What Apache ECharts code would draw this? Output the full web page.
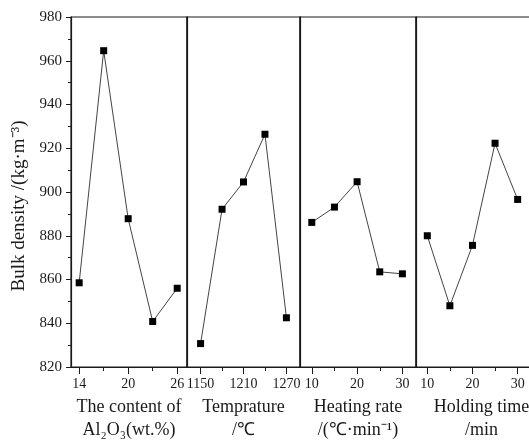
<!DOCTYPE html>
<html>
<head>
<meta charset="utf-8">
<script src="https://cdn.jsdelivr.net/npm/echarts@6/dist/echarts.min.js"></script>
<style>
  html, body { margin: 0; padding: 0; background: #fff; }
  #chart { width: 529px; height: 440px; }
</style>
</head>
<body>
<div id="chart"></div>
<script>
// values
const alX = [14, 17, 20, 23, 26];
const alY = [858.5, 964.6, 887.8, 840.8, 856.0];
const tempX = [1150, 1180, 1210, 1240, 1270];
const tempY = [830.7, 892.1, 904.6, 926.4, 842.5];
const rateX = [10, 15, 20, 25, 30];
const rateY = [886.1, 893.1, 904.7, 863.5, 862.6];
const holdX = [10, 15, 20, 25, 30];
const holdY = [880.0, 848.0, 875.6, 922.3, 896.6];

const yTicks = { min: 820, max: 980, interval: 20 };

const panels = [
  { x: alX, y: alY, min: 13.0, max: 27.2, labels: [14, 20, 26], minor: [17, 23],
    name: 'The content of\nAl₂O₃(wt.%)', left: 71, width: 116, pad: 0 },
  { x: tempX, y: tempY, min: 1131, max: 1289, labels: [1150, 1210, 1270], minor: [1180, 1240],
    name: 'Temprature\n/℃', left: 187, width: 113, pad: 0 },
  { x: rateX, y: rateY, min: 7.4, max: 33.0, labels: [10, 20, 30], minor: [15, 25],
    name: 'Heating rate\n/(℃·min⁻¹)', left: 300, width: 116, pad: 0 },
  { x: holdX, y: holdY, min: 7.5, max: 33.4, labels: [10, 20, 30], minor: [15, 25],
    name: 'Holding time\n/min', left: 416, width: 117, pad: 14 }
];

const font = 'Liberation Serif';
const ink = '#1a1a1a';

let myChart = echarts.init(document.getElementById('chart'));

let grid = [], xAxis = [], yAxis = [], series = [];
panels.forEach((p, i) => {
  grid.push({
    left: p.left, top: 17, width: p.width, height: 350,
    outerBoundsMode: 'none', containLabel: false,
    show: true, borderColor: ink, borderWidth: 1.2
  });
  // major ticks + labels + name
  xAxis.push({
    gridIndex: i, type: 'value', min: p.min, max: p.max,
    axisLine: { lineStyle: { color: ink, width: 1.2 } },
    axisTick: { show: true, length: 7, customValues: p.labels, lineStyle: { color: ink } },
    axisLabel: {
      customValues: p.labels, color: ink, fontFamily: font, fontSize: 14, margin: 10,
      formatter: v => String(v)
    },
    splitLine: { show: false },
    name: p.name, nameLocation: 'middle', nameGap: 28,
    nameTextStyle: {
      color: ink, fontFamily: font, fontSize: 18, lineHeight: 23,
      padding: [0, 0, 0, p.pad]
    }
  });
  // minor ticks
  xAxis.push({
    gridIndex: i, type: 'value', min: p.min, max: p.max, position: 'bottom',
    axisLine: { show: false },
    axisTick: { show: true, length: 4, customValues: p.minor, lineStyle: { color: ink } },
    axisLabel: { show: false },
    splitLine: { show: false }
  });
  yAxis.push(i === 0 ? {
    gridIndex: i, type: 'value', min: yTicks.min, max: yTicks.max, interval: yTicks.interval,
    axisLine: { show: true, lineStyle: { color: ink, width: 1.2 } },
    axisTick: { show: true, length: 5, lineStyle: { color: ink } },
    minorTick: { show: true, splitNumber: 2, length: 3, lineStyle: { color: ink } },
    axisLabel: { color: ink, fontFamily: font, fontSize: 15, margin: 9 },
    splitLine: { show: false },
    name: 'Bulk density /(kg·m⁻³)', nameLocation: 'middle', nameGap: 42,
    nameTextStyle: { color: ink, fontFamily: font, fontSize: 19, padding: [0, 28, 0, 0] }
  } : {
    gridIndex: i, type: 'value', min: yTicks.min, max: yTicks.max, interval: yTicks.interval,
    axisLine: { show: true, lineStyle: { color: ink, width: 1.2 } },
    axisTick: { show: false }, axisLabel: { show: false }, splitLine: { show: false }
  });
  series.push({
    type: 'line', xAxisIndex: i * 2, yAxisIndex: i,
    data: p.x.map((v, k) => [v, p.y[k]]),
    symbol: 'rect', symbolSize: 7,
    itemStyle: { color: '#000' },
    lineStyle: { color: '#444', width: 1 },
    animation: false
  });
});

let option = {
  backgroundColor: '#fff',
  animation: false,
  grid, xAxis, yAxis, series
};

option && myChart.setOption(option);
</script>
</body>
</html>
